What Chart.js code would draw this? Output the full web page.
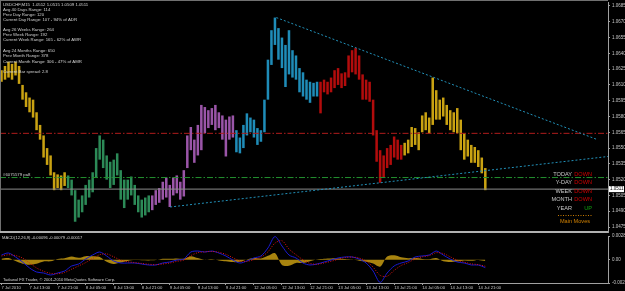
<!DOCTYPE html>
<html>
<head>
<meta charset="utf-8">
<script src="https://cdn.jsdelivr.net/npm/chart.js@4.4.0/dist/chart.umd.min.js"></script>
<style>
  html, body { margin: 0; padding: 0; background: #000; }
  #wrap { position: relative; width: 625px; height: 291px; background: #000; overflow: hidden; }
  #priceBox { position: absolute; left: 0; top: 0; width: 625px; height: 233px; }
  #macdBox { position: absolute; left: 0; top: 233px; width: 625px; height: 58px; }
  #sep { position: absolute; left: 0; top: 231px; width: 608px; height: 2px; background: #b0b0b0; }
</style>
</head>
<body>
<div id="wrap">
  <div id="priceBox"><canvas id="price"></canvas></div>
  <div id="macdBox"><canvas id="macd"></canvas></div>
  <div id="sep"></div>
</div>
<script>
// USDCHF hourly ranges, 7 Jul 05:00 .. 14 Jul 23:00 (one entry per hour)
const highs = [
  1.0624,1.0628,1.0632,1.0630,1.0632,1.0628,1.0610,1.0603,1.0598,1.0596,1.0584,1.0572,1.0562,1.0550,1.0543,1.0527,1.0525,1.0524,1.0527,
  1.0524,1.0520,1.0510,1.0501,1.0505,1.0515,1.0520,1.0527,1.0550,1.0562,1.0558,1.0543,1.0537,1.0539,1.0545,1.0529,1.0520,1.0520,1.0523,1.0515,1.0505,1.0501,1.0503,1.0505,
  1.0505,1.0510,1.0512,1.0518,1.0522,1.0515,1.0522,1.0524,1.0518,1.0529,1.0562,1.0570,1.0558,1.0572,1.0591,1.0589,1.0586,1.0588,1.0591,1.0584,1.0581,1.0577,1.0580,1.0581,
  1.0567,1.0560,1.0572,1.0583,1.0579,1.0577,1.0569,1.0567,1.0596,1.0634,1.0662,1.0674,1.0664,1.0655,1.0648,1.0662,1.0643,1.0638,1.0626,1.0622,1.0615,1.0613,1.0612,1.0613,
  1.0613,1.0615,1.0613,1.0617,1.0624,1.0626,1.0621,1.0622,1.0638,1.0643,1.0645,1.0638,1.0620,1.0615,1.0613,1.0596,1.0567,1.0548,1.0543,1.0550,1.0553,1.0561,1.0558,1.0553,
  1.0555,1.0558,1.0570,1.0569,1.0565,1.0581,1.0584,1.0579,1.0617,1.0605,1.0596,1.0598,1.0591,1.0586,1.0584,1.0588,1.0577,1.0564,1.0558,1.0553,1.0551,1.0548,1.0541,1.0531
];
const lows = [
  1.0613,1.0615,1.0617,1.0615,1.0619,1.0611,1.0596,1.0589,1.0584,1.0579,1.0567,1.0558,1.0541,1.0534,1.0524,1.0510,1.0512,1.0510,1.0514,
  1.0512,1.0505,1.0480,1.0484,1.0489,1.0496,1.0503,1.0508,1.0522,1.0539,1.0531,1.0520,1.0512,1.0515,1.0524,1.0501,1.0493,1.0501,1.0505,1.0496,1.0489,1.0484,1.0486,1.0489,
  1.0491,1.0496,1.0498,1.0501,1.0503,1.0494,1.0505,1.0507,1.0501,1.0504,1.0531,1.0548,1.0536,1.0543,1.0548,1.0564,1.0569,1.0572,1.0567,1.0569,1.0558,1.0542,1.0558,1.0560,
  1.0546,1.0545,1.0550,1.0562,1.0565,1.0560,1.0553,1.0556,1.0565,1.0596,1.0629,1.0648,1.0634,1.0626,1.0608,1.0620,1.0617,1.0615,1.0603,1.0599,1.0596,1.0593,1.0599,1.0599,
  1.0583,1.0603,1.0601,1.0603,1.0607,1.0610,1.0607,1.0609,1.0617,1.0622,1.0620,1.0615,1.0596,1.0596,1.0594,1.0562,1.0537,1.0517,1.0522,1.0531,1.0534,1.0541,1.0539,1.0539,
  1.0543,1.0545,1.0551,1.0553,1.0548,1.0565,1.0567,1.0564,1.0572,1.0577,1.0577,1.0580,1.0572,1.0567,1.0565,1.0564,1.0548,1.0539,1.0542,1.0536,1.0536,1.0532,1.0526,1.0510
];
// first bar index of each trading day and its colour
const dayStarts = [0, 19, 43, 67, 91, 115];
const dayColors = ['#c9a212', '#2c8a57', '#9a55a8', '#1f8cb8', '#b20c0c', '#c9a212'];

const priceTicks = [1.0475,1.0490,1.0505,1.0520,1.0535,1.0550,1.0565,1.0580,1.0595,1.0610,1.0625,1.0640,1.0655,1.0670,1.0685];
const tickHours = [0,8,16,24,32,40,48,56,64,72,80,88,96,104,112,120,128,136];
const timeLabels = ['7 Jul 2010','7 Jul 13:00','7 Jul 21:00','8 Jul 05:00','8 Jul 13:00','8 Jul 21:00',
  '9 Jul 05:00','9 Jul 13:00','9 Jul 21:00','12 Jul 05:00','12 Jul 13:00','12 Jul 21:00',
  '13 Jul 05:00','13 Jul 13:00','13 Jul 21:00','14 Jul 05:00','14 Jul 13:00','14 Jul 21:00'];

// drawn objects: trend lines (bar index, price) and horizontal levels
const upperTrend = [[78.4, 1.0674], [170, 1.0558]];
const lowerTrend = [[48.1, 1.0494], [173, 1.0542]];
const redLevel = 1.0564;
const greenLevel = 1.0522;
const bidPrice = 1.0511;

// MACD(12,26,9), one value every second bar
const macdLine = [
  0.00057,0.00081,0.00033,-0.00028,-0.00100,-0.00149,-0.00161,-0.00185,-0.00161,-0.00137,
  -0.00076,-0.00052,0.00008,0.00057,0.00093,0.00045,-0.00016,-0.00040,-0.00040,-0.00040,
  -0.00052,-0.00064,-0.00064,-0.00040,-0.00028,-0.00004,0.00008,0.00093,0.00105,0.00093,
  0.00105,0.00081,0.00045,-0.00004,-0.00040,-0.00016,0.00021,0.00045,0.00142,0.00280,
  0.00166,0.00057,0.00021,-0.00040,-0.00064,-0.00052,-0.00028,-0.00004,0.00021,0.00033,
  0.00033,0.00008,-0.00040,-0.00137,-0.00275,-0.00161,-0.00076,-0.00040,-0.00016,0.00033,
  0.00045,0.00057,0.00105,0.00057,0.00008,-0.00028,-0.00040,-0.00064,-0.00064,-0.00096
];
const signalLine = [
  0.00045,0.00060,0.00050,0.00020,-0.00040,-0.00100,-0.00140,-0.00165,-0.00170,-0.00155,
  -0.00115,-0.00075,-0.00035,0.00015,0.00060,0.00070,0.00035,-0.00005,-0.00025,-0.00035,
  -0.00045,-0.00055,-0.00060,-0.00052,-0.00040,-0.00020,-0.00005,0.00050,0.00085,0.00095,
  0.00100,0.00090,0.00065,0.00025,-0.00015,-0.00020,0.00000,0.00030,0.00095,0.00200,
  0.00230,0.00130,0.00060,0.00000,-0.00045,-0.00055,-0.00040,-0.00020,0.00005,0.00025,
  0.00032,0.00020,-0.00015,-0.00090,-0.00190,-0.00200,-0.00130,-0.00070,-0.00035,0.00010,
  0.00035,0.00050,0.00085,0.00075,0.00035,-0.00005,-0.00030,-0.00050,-0.00060,-0.00079
];
const osmaHist = [
  0.00012,0.00021,-0.00017,-0.00048,-0.00060,-0.00049,-0.00021,-0.00020,0.00009,0.00018,
  0.00039,0.00023,0.00043,0.00042,0.00033,-0.00025,-0.00051,-0.00035,-0.00015,-0.00005,
  -0.00007,-0.00009,-0.00004,0.00012,0.00012,0.00016,0.00013,0.00043,0.00020,-0.00002,
  0.00005,-0.00009,-0.00020,-0.00029,-0.00025,0.00004,0.00021,0.00015,0.00047,0.00080,
  -0.00064,-0.00073,-0.00039,-0.00040,-0.00019,0.00003,0.00012,0.00016,0.00016,0.00008,
  0.00001,-0.00012,-0.00025,-0.00047,-0.00085,0.00039,0.00054,0.00030,0.00019,0.00023,
  0.00010,0.00007,0.00020,-0.00018,-0.00027,-0.00023,-0.00010,-0.00014,-0.00004,-0.00017
];
const macdTicks = [-0.00282, 0, 0.00287];

const infoLines = [
  'USDCHF,M15  1.0512 1.0515 1.0509 1.0511',
  'Avg 40 Days Range: 114',
  'Prev Day Range: 120',
  'Current Day Range: 107 - 94% of ADR',
  'Avg 26 Weeks Range: 264',
  'Prev Week Range: 192',
  'Current Week Range: 165 - 62% of AWR',
  'Avg 24 Months Range: 650',
  'Prev Month Range: 378',
  'Current Month Range: 306 - 47% of AMR',
  'Current Bar spread: 2.8'
];
const infoY = [5, 10, 15, 19.5, 29.5, 34.5, 40, 51, 56, 61.5, 72];
const moveNames = ['TODAY', 'Y-DAY', 'WEEK', 'MONTH', 'YEAR'];
const moveDirs = ['DOWN', 'DOWN', 'DOWN', 'DOWN', 'UP'];

const FONT = '"Liberation Sans", Arial, sans-serif';
const AXIS = '#a0a0a0';
const TXT = '#c8c8c8';
const X_MIN = -0.43, X_MAX = 173;

function dayColor(i) {
  let d = 0;
  for (let k = 0; k < dayStarts.length; k++) if (i >= dayStarts[k]) d = k;
  return dayColors[d];
}
function lineSet(pts, color, dash) {
  return {
    type: 'line',
    data: pts.map(p => ({ x: p[0], y: p[1] })),
    borderColor: color, borderWidth: 1, borderDash: dash,
    pointRadius: 0, fill: false, tension: 0
  };
}
function noPad(s) { s.paddingTop = 0; s.paddingBottom = 0; s.paddingLeft = 0; s.paddingRight = 0; }

const priceOverlay = {
  id: 'priceOverlay',
  afterDraw(chart) {
    const ctx = chart.ctx;
    const ys = chart.scales.y;
    ctx.save();
    // frame
    ctx.strokeStyle = '#707070';
    ctx.lineWidth = 1;
    ctx.beginPath();
    ctx.moveTo(0, 0.5); ctx.lineTo(608, 0.5);
    ctx.moveTo(0.5, 0); ctx.lineTo(0.5, 233);
    ctx.stroke();
    // info block
    ctx.font = '4.3px ' + FONT;
    ctx.fillStyle = '#d2d2d2';
    ctx.textBaseline = 'middle';
    infoLines.forEach((t, k) => ctx.fillText(t, 3, infoY[k]));
    // green level label
    ctx.fillText('#6075579 pa8', 3, ys.getPixelForValue(greenLevel) - 3);
    // main moves panel
    ctx.font = '5.6px ' + FONT;
    moveNames.forEach((n, k) => {
      const yy = 174 + k * 8.5;
      ctx.textAlign = 'right';
      ctx.fillStyle = TXT;
      ctx.fillText(n, 572, yy);
      ctx.fillStyle = moveDirs[k] === 'UP' ? '#10a010' : '#d00000';
      ctx.fillText(moveDirs[k], 592, yy);
    });
    ctx.strokeStyle = '#c87a00';
    ctx.setLineDash([1, 1.5]);
    ctx.beginPath(); ctx.moveTo(558, 215.5); ctx.lineTo(593, 215.5); ctx.stroke();
    ctx.setLineDash([]);
    ctx.textAlign = 'center';
    ctx.fillStyle = '#d08000';
    ctx.fillText('Main Moves', 575, 221);
    // bid price box on the axis
    const by = ys.getPixelForValue(bidPrice);
    ctx.fillStyle = '#ffffff';
    ctx.fillRect(609, by - 3, 15, 6);
    ctx.fillStyle = '#000000';
    ctx.font = '4.5px ' + FONT;
    ctx.textAlign = 'left';
    ctx.fillText(bidPrice.toFixed(4), 610, by);
    ctx.restore();
  }
};

const macdOverlay = {
  id: 'macdOverlay',
  afterDraw(chart) {
    const ctx = chart.ctx;
    const a = chart.chartArea;
    ctx.save();
    ctx.font = '4.1px ' + FONT;
    ctx.fillStyle = '#d2d2d2';
    ctx.textBaseline = 'middle';
    ctx.fillText('MACD(12,26,9) ' + macdLine[macdLine.length - 1].toFixed(5) + ' ' +
      signalLine[signalLine.length - 1].toFixed(5) + ' ' + osmaHist[osmaHist.length - 1].toFixed(5), 2, a.top + 2);
    ctx.fillText('Tadawul FX Trader, \u00a9 2001-2010 MetaQuotes Software Corp.', 3, a.bottom - 3.5);
    ctx.restore();
  }
};

new Chart(document.getElementById('price'), {
  type: 'bar',
  data: {
    datasets: [
      lineSet(upperTrend, '#2290b8', [2, 2]),
      lineSet(lowerTrend, '#2290b8', [2, 2]),
      lineSet([[X_MIN, redLevel], [X_MAX, redLevel]], '#b01c1c', [6, 2, 1.5, 2]),
      lineSet([[X_MIN, greenLevel], [X_MAX, greenLevel]], '#23902f', [6, 2, 1.5, 2]),
      lineSet([[X_MIN, bidPrice], [X_MAX, bidPrice]], '#8c8c8c', []),
      {
        type: 'bar',
        data: highs.map((h, i) => ({ x: i, y: [lows[i], h] })),
        backgroundColor: c => dayColor(c.dataIndex),
        borderWidth: 0,
        barPercentage: 1,
        categoryPercentage: 0.72,
        grouped: false
      }
    ]
  },
  options: {
    responsive: true, maintainAspectRatio: false, animation: false, devicePixelRatio: 1,
    events: [],
    layout: { padding: { top: 2, bottom: 1, left: 0, right: 0 } },
    plugins: { legend: { display: false }, tooltip: { enabled: false } },
    scales: {
      x: { type: 'linear', min: X_MIN, max: X_MAX, offset: false, display: false },
      y: {
        position: 'right', min: 1.047025, max: 1.06888, beginAtZero: false,
        afterBuildTicks: s => { s.ticks = priceTicks.map(v => ({ value: v })); },
        afterFit: s => { s.width = 17; noPad(s); },
        ticks: { color: TXT, font: { size: 4.5, family: FONT }, padding: 2, callback: v => v.toFixed(4) },
        grid: { drawOnChartArea: false, color: AXIS, tickLength: 2 },
        border: { color: AXIS }
      }
    }
  },
  plugins: [priceOverlay]
});

new Chart(document.getElementById('macd'), {
  type: 'line',
  data: {
    datasets: [
      {
        data: signalLine.map((v, k) => ({ x: k * 2, y: v })),
        borderColor: '#e01414', borderWidth: 1, borderDash: [1, 1.5], pointRadius: 0, tension: 0.3
      },
      {
        data: macdLine.map((v, k) => ({ x: k * 2, y: v })),
        borderColor: '#1a1ad2', borderWidth: 1, pointRadius: 0, tension: 0.3
      },
      {
        data: osmaHist.map((v, k) => ({ x: k * 2, y: v })),
        borderWidth: 0, pointRadius: 0, tension: 0.3,
        fill: 'origin', backgroundColor: '#a8840f'
      }
    ]
  },
  options: {
    responsive: true, maintainAspectRatio: false, animation: false, devicePixelRatio: 1,
    events: [],
    layout: { padding: { top: 3, bottom: 0, left: 0, right: 0 } },
    plugins: { legend: { display: false }, tooltip: { enabled: false } },
    scales: {
      x: {
        type: 'linear', min: X_MIN, max: X_MAX, offset: false,
        afterBuildTicks: s => { s.ticks = tickHours.map(v => ({ value: v })); },
        afterFit: s => { s.height = 8; noPad(s); },
        ticks: {
          align: 'start', maxRotation: 0, autoSkip: false, padding: 0.5,
          color: TXT, font: { size: 4.2, family: FONT },
          callback: v => timeLabels[tickHours.indexOf(v)]
        },
        grid: { drawOnChartArea: false, color: AXIS, tickLength: 2 },
        border: { color: AXIS }
      },
      y: {
        position: 'right', min: macdTicks[0], max: macdTicks[2],
        afterBuildTicks: s => { s.ticks = macdTicks.map(v => ({ value: v })); },
        afterFit: s => { s.width = 17; noPad(s); },
        ticks: { color: TXT, font: { size: 4.5, family: FONT }, padding: 2, callback: v => (v === 0 ? '0.00' : v.toFixed(5)) },
        grid: { drawOnChartArea: false, color: AXIS, tickLength: 2 },
        border: { color: AXIS }
      }
    }
  },
  plugins: [macdOverlay]
});
</script>
</body>
</html>
